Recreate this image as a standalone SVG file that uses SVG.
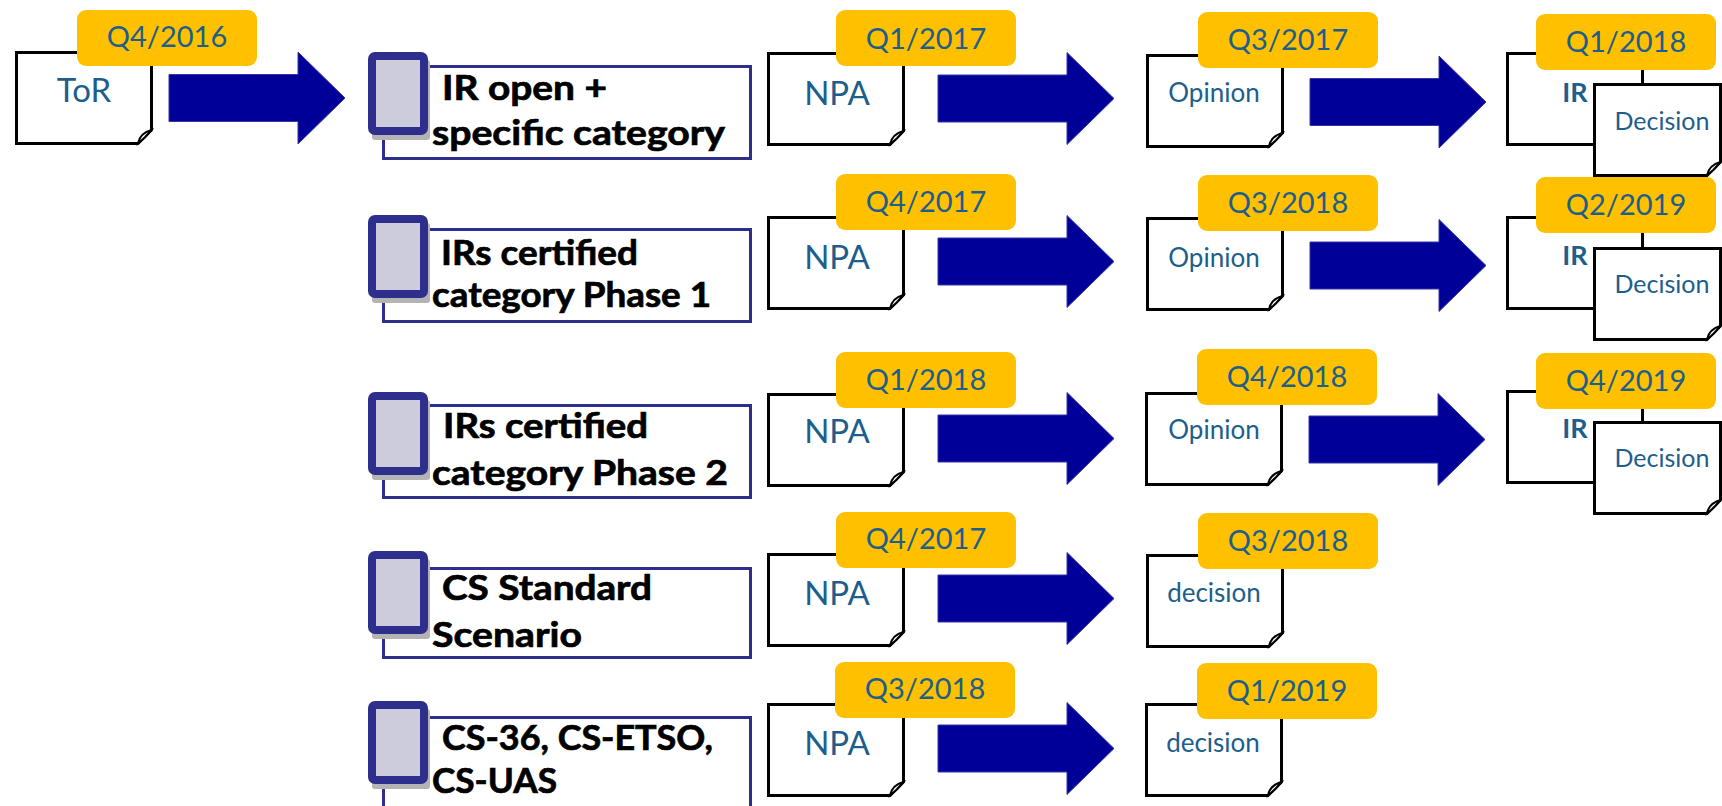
<svg xmlns="http://www.w3.org/2000/svg" xmlns:xlink="http://www.w3.org/1999/xlink" width="1722" height="806" viewBox="0 0 1722 806">
<defs>
<style>
.doc{fill:#fff;stroke:#000;stroke-width:3;stroke-linejoin:miter}
.curl{fill:#fff;stroke:#000;stroke-width:2}
.tag{fill:#FFC000}
.tagt{font-family:Lato,"Open Sans","Liberation Sans",sans-serif;font-size:29px;fill:#1d5e8c;text-anchor:middle}
.dt{font-family:Lato,"Open Sans","Liberation Sans",sans-serif;fill:#1d5e8c;text-anchor:middle}
.big{font-size:33px}
.mid{font-size:26px}
.sm{font-size:25px}
.ir{font-size:27px;font-weight:bold}
.sq{fill:#ccccdd;stroke:#2e2e8c;stroke-width:8}
.shd{fill:#b4b4b4}
.box{fill:#fff;stroke:#2e2e8c;stroke-width:3}
.lbl{font-family:Lato,"Open Sans","Liberation Sans",sans-serif;font-weight:bold;font-size:35px;fill:#000;stroke:#000;stroke-width:0.7}
.arr{fill:#000099;stroke:#3535a8;stroke-width:1}
</style>
<g id="doc">
<path class="doc" d="M1.5,1.5 H136.5 V79 L123,92.5 H1.5 Z"/>
<path class="curl" d="M123,92.5 Q125,82 136.5,79 Q130,87 123,92.5 Z"/>
</g>
<g id="docD">
<path class="doc" d="M1.5,1.5 H127.5 V79 L114,92.5 H1.5 Z"/>
<path class="curl" d="M114,92.5 Q116,82 127.5,79 Q121,87 114,92.5 Z"/>
</g>
<polygon id="arrow" class="arr" points="0,-23.5 129,-23.5 129,-46 176,0 129,46 129,23.5 0,23.5"/>
<rect id="tagr" class="tag" width="180" height="56" rx="9"/>
<g id="sqr">
<rect class="shd" x="4" y="8" width="58" height="80" rx="3"/>
<rect class="sq" x="4" y="4" width="52" height="75" rx="3"/>
</g>
</defs>

<g id="connectors">
<use xlink:href="#arrow" x="169" y="98"/>
<use xlink:href="#arrow" x="938" y="98.5"/>
<use xlink:href="#arrow" x="1310" y="102"/>
<use xlink:href="#arrow" x="938" y="261.5"/>
<use xlink:href="#arrow" x="1310" y="265.5"/>
<use xlink:href="#arrow" x="938" y="438.5"/>
<use xlink:href="#arrow" x="1309" y="439.5"/>
<use xlink:href="#arrow" x="938" y="598.5"/>
<use xlink:href="#arrow" x="938" y="748.5"/>
</g>

<g id="tor">
<use xlink:href="#doc" x="15" y="51"/>
<text class="dt big" x="84" y="102">ToR</text>
<use xlink:href="#tagr" x="77" y="10"/>
<text class="tagt" x="167" y="47">Q4/2016</text>
</g>

<g id="label1">
<rect class="box" x="383.5" y="66.5" width="367" height="92"/>
<use xlink:href="#sqr" x="368" y="52"/>
<text class="lbl" x="442" y="100" textLength="165" lengthAdjust="spacingAndGlyphs">IR open +</text>
<text class="lbl" x="432" y="145" textLength="293" lengthAdjust="spacingAndGlyphs">specific category</text>
</g>
<g id="label2">
<rect class="box" x="383.5" y="229.5" width="367" height="92"/>
<use xlink:href="#sqr" x="368" y="215"/>
<text class="lbl" x="441" y="265" textLength="197" lengthAdjust="spacingAndGlyphs">IRs certified</text>
<text class="lbl" x="432" y="307" textLength="279" lengthAdjust="spacingAndGlyphs">category Phase 1</text>
</g>
<g id="label3">
<rect class="box" x="383.5" y="405.5" width="367" height="92"/>
<use xlink:href="#sqr" x="368" y="392"/>
<text class="lbl" x="443" y="438" textLength="205" lengthAdjust="spacingAndGlyphs">IRs certified</text>
<text class="lbl" x="432" y="485" textLength="296" lengthAdjust="spacingAndGlyphs">category Phase 2</text>
</g>
<g id="label4">
<rect class="box" x="383.5" y="568.5" width="367" height="89"/>
<use xlink:href="#sqr" x="368" y="551"/>
<text class="lbl" x="442" y="600" textLength="210" lengthAdjust="spacingAndGlyphs">CS Standard</text>
<text class="lbl" x="432" y="647" textLength="150" lengthAdjust="spacingAndGlyphs">Scenario</text>
</g>
<g id="label5">
<rect class="box" x="383.5" y="717.5" width="367" height="92"/>
<use xlink:href="#sqr" x="368" y="701"/>
<text class="lbl" x="442" y="750" textLength="271" lengthAdjust="spacingAndGlyphs">CS-36, CS-ETSO,</text>
<text class="lbl" x="432" y="793" textLength="125" lengthAdjust="spacingAndGlyphs">CS-UAS</text>
</g>

<g id="npa1">
<use xlink:href="#doc" x="767" y="52"/>
<text class="dt big" x="837" y="105">NPA</text>
<use xlink:href="#tagr" x="836" y="10"/>
<text class="tagt" x="926" y="49">Q1/2017</text>
</g>
<g id="npa2">
<use xlink:href="#doc" x="767" y="216"/>
<text class="dt big" x="837" y="269">NPA</text>
<use xlink:href="#tagr" x="836" y="174"/>
<text class="tagt" x="926" y="212">Q4/2017</text>
</g>
<g id="npa3">
<use xlink:href="#doc" x="767" y="393"/>
<text class="dt big" x="837" y="443">NPA</text>
<use xlink:href="#tagr" x="836" y="352"/>
<text class="tagt" x="926" y="390">Q1/2018</text>
</g>
<g id="npa4">
<use xlink:href="#doc" x="767" y="553"/>
<text class="dt big" x="837" y="605">NPA</text>
<use xlink:href="#tagr" x="836" y="512"/>
<text class="tagt" x="926" y="549">Q4/2017</text>
</g>
<g id="npa5">
<use xlink:href="#doc" x="767" y="703"/>
<text class="dt big" x="837" y="755">NPA</text>
<use xlink:href="#tagr" x="835" y="662"/>
<text class="tagt" x="925" y="699">Q3/2018</text>
</g>

<g id="op1">
<use xlink:href="#doc" x="1146" y="54"/>
<text class="dt mid" x="1214" y="102">Opinion</text>
<use xlink:href="#tagr" x="1198" y="12"/>
<text class="tagt" x="1288" y="50">Q3/2017</text>
</g>
<g id="op2">
<use xlink:href="#doc" x="1146" y="217"/>
<text class="dt mid" x="1214" y="267">Opinion</text>
<use xlink:href="#tagr" x="1198" y="175"/>
<text class="tagt" x="1288" y="213">Q3/2018</text>
</g>
<g id="op3">
<use xlink:href="#doc" x="1145" y="392"/>
<text class="dt mid" x="1214" y="439">Opinion</text>
<use xlink:href="#tagr" x="1197" y="349"/>
<text class="tagt" x="1287" y="387">Q4/2018</text>
</g>
<g id="dec4">
<use xlink:href="#doc" x="1146" y="554"/>
<text class="dt mid" x="1214" y="602">decision</text>
<use xlink:href="#tagr" x="1198" y="513"/>
<text class="tagt" x="1288" y="551">Q3/2018</text>
</g>
<g id="dec5">
<use xlink:href="#doc" x="1145" y="703"/>
<text class="dt mid" x="1213" y="752">decision</text>
<use xlink:href="#tagr" x="1197" y="663"/>
<text class="tagt" x="1287" y="701">Q1/2019</text>
</g>

<g id="ir1">
<use xlink:href="#doc" x="1506" y="52"/>
<text class="dt ir" x="1575" y="102">IR</text>
<use xlink:href="#docD" x="1593" y="83"/>
<text class="dt sm" x="1662" y="130">Decision</text>
<use xlink:href="#tagr" x="1536" y="14"/>
<text class="tagt" x="1626" y="52">Q1/2018</text>
</g>
<g id="ir2">
<use xlink:href="#doc" x="1506" y="216"/>
<text class="dt ir" x="1575" y="265">IR</text>
<use xlink:href="#docD" x="1593" y="247"/>
<text class="dt sm" x="1662" y="293">Decision</text>
<use xlink:href="#tagr" x="1536" y="177"/>
<text class="tagt" x="1626" y="215">Q2/2019</text>
</g>
<g id="ir3">
<use xlink:href="#doc" x="1506" y="390"/>
<text class="dt ir" x="1575" y="438">IR</text>
<use xlink:href="#docD" x="1593" y="421"/>
<text class="dt sm" x="1662" y="467">Decision</text>
<use xlink:href="#tagr" x="1536" y="353"/>
<text class="tagt" x="1626" y="391">Q4/2019</text>
</g>
</svg>
